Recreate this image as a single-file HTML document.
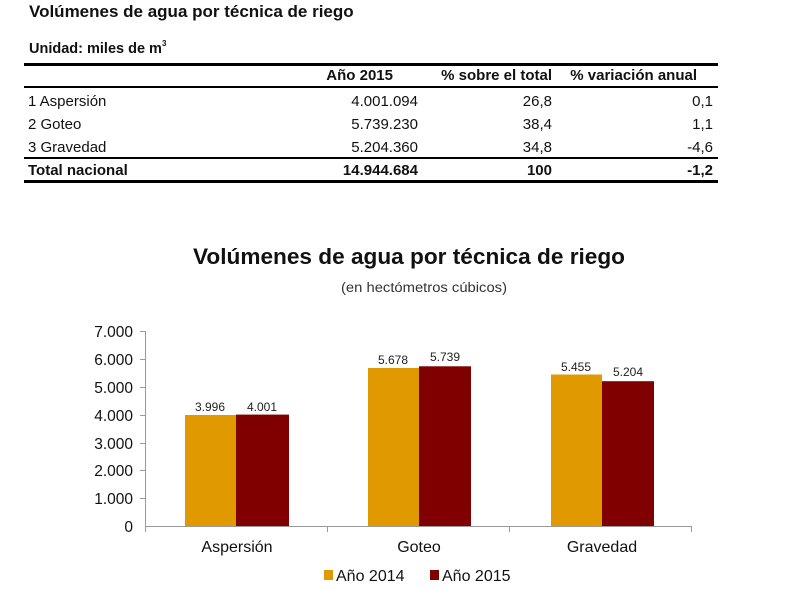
<!DOCTYPE html>
<html><head><meta charset="utf-8"><style>
body{margin:0;background:#fff;}
svg{display:block;font-family:"Liberation Sans",Arial,sans-serif;}
</style></head><body>
<svg width="791" height="590" viewBox="0 0 791 590" xmlns="http://www.w3.org/2000/svg">
<text x="29" y="17" font-size="17" font-weight="bold" fill="#111">Volúmenes de agua por técnica de riego</text>
<text x="29" y="53" font-size="14.5" font-weight="bold" fill="#111">Unidad: miles de m<tspan font-size="8" dy="-7">3</tspan></text>
<rect x="24" y="63" width="694" height="3" fill="#000"/>
<rect x="24" y="86" width="694" height="2" fill="#000"/>
<rect x="24" y="157" width="694" height="2" fill="#000"/>
<rect x="24" y="180" width="694" height="3" fill="#000"/>
<g font-size="15" fill="#111">
<g font-weight="bold" text-anchor="end"><text x="393" y="80">Año 2015</text><text x="552" y="80">% sobre el total</text><text x="697" y="80">% variación anual</text></g>
<text x="28" y="106">1 Aspersión</text><text x="28" y="129">2 Goteo</text><text x="28" y="152">3 Gravedad</text>
<text x="28" y="175" font-weight="bold">Total nacional</text>
<g text-anchor="end">
<text x="418" y="106">4.001.094</text><text x="552" y="106">26,8</text><text x="713" y="106">0,1</text>
<text x="418" y="129">5.739.230</text><text x="552" y="129">38,4</text><text x="713" y="129">1,1</text>
<text x="418" y="152">5.204.360</text><text x="552" y="152">34,8</text><text x="713" y="152">-4,6</text>
<g font-weight="bold"><text x="418" y="175">14.944.684</text><text x="552" y="175">100</text><text x="713" y="175">-1,2</text></g>
</g></g>
<text x="409" y="264" font-size="22" font-weight="bold" text-anchor="middle" fill="#111" textLength="432" lengthAdjust="spacingAndGlyphs">Volúmenes de agua por técnica de riego</text>
<text x="424" y="292" font-size="13.5" text-anchor="middle" fill="#333" textLength="166" lengthAdjust="spacingAndGlyphs">(en hectómetros cúbicos)</text>
<g stroke="#999" stroke-width="1">
<line x1="145.5" y1="331" x2="145.5" y2="527"/>
<line x1="145" y1="526.5" x2="692" y2="526.5"/>
<line x1="140" y1="331.5" x2="145" y2="331.5"/><line x1="140" y1="359.5" x2="145" y2="359.5"/><line x1="140" y1="387.5" x2="145" y2="387.5"/><line x1="140" y1="415.5" x2="145" y2="415.5"/><line x1="140" y1="443.5" x2="145" y2="443.5"/><line x1="140" y1="470.5" x2="145" y2="470.5"/><line x1="140" y1="498.5" x2="145" y2="498.5"/>
<line x1="327.5" y1="526" x2="327.5" y2="532"/><line x1="509.5" y1="526" x2="509.5" y2="532"/><line x1="691.5" y1="526" x2="691.5" y2="532"/><line x1="145.5" y1="526" x2="145.5" y2="532"/>
</g>
<g font-size="15.5" fill="#111" text-anchor="end">
<text x="133" y="337">7.000</text><text x="133" y="365">6.000</text><text x="133" y="393">5.000</text><text x="133" y="421">4.000</text><text x="133" y="449">3.000</text><text x="133" y="476">2.000</text><text x="133" y="504">1.000</text><text x="133" y="532">0</text>
</g>
<g fill="#E09A00">
<rect x="185" y="415" width="51" height="111"/><rect x="368" y="368" width="51" height="158"/><rect x="551" y="374.5" width="51" height="151.5"/>
</g>
<g fill="#800000">
<rect x="236" y="414.6" width="53" height="111.4"/><rect x="419" y="366.3" width="52" height="159.7"/><rect x="602" y="381.2" width="52" height="144.8"/>
</g>
<g font-size="12" fill="#222" text-anchor="middle">
<text x="210" y="411">3.996</text><text x="262" y="411">4.001</text>
<text x="393" y="364">5.678</text><text x="445" y="361">5.739</text>
<text x="576" y="371">5.455</text><text x="628" y="376">5.204</text>
</g>
<g font-size="16" fill="#111" text-anchor="middle">
<text x="237" y="552">Aspersión</text><text x="419" y="552">Goteo</text><text x="602" y="552">Gravedad</text>
</g>
<rect x="324" y="570" width="9" height="10" fill="#E09A00"/>
<text x="336" y="581" font-size="16" fill="#111">Año 2014</text>
<rect x="430" y="570" width="9" height="10" fill="#800000"/>
<text x="442" y="581" font-size="16" fill="#111">Año 2015</text>
</svg>
</body></html>
